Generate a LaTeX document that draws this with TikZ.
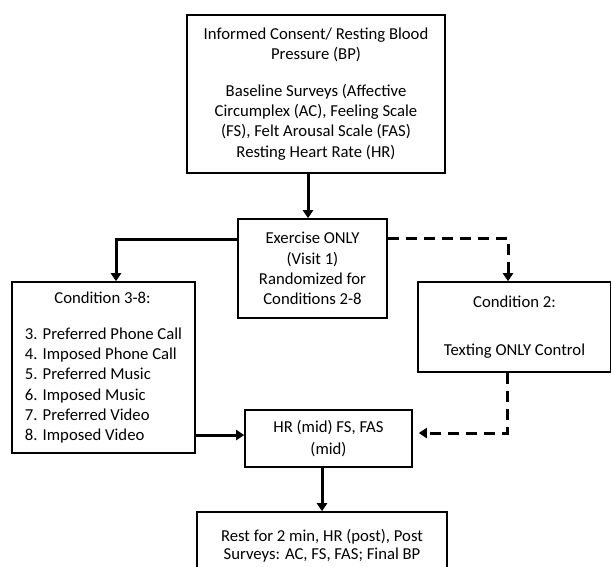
\documentclass[tikz,border=0pt]{standalone}
\usepackage{fontspec}
\setmainfont{Carlito}
\usetikzlibrary{arrows.meta}
\begin{document}
\begin{tikzpicture}[x=1pt,y=-1pt,
  box/.style={draw,line width=1.6pt,inner sep=0pt,align=center,font=\fontsize{16.7}{20.3}\selectfont},
  conn/.style={line width=3pt,-{Triangle[length=8pt,width=10pt]}},
  dconn/.style={conn,dash pattern=on 11pt off 7pt}]
\useasboundingbox (0,0) rectangle (611,566);
\node[box,minimum width=258pt,minimum height=158pt] (top) at (316,94)
  {Informed Consent/ Resting Blood\\Pressure (BP)\\[16pt]Baseline Surveys (Affective\\Circumplex (AC), Feeling Scale\\(FS), Felt Arousal Scale (FAS)\\Resting Heart Rate (HR)};
\node[box,minimum width=149pt,minimum height=99pt] (ex) at (312.5,268.5)
  {Exercise ONLY\\(Visit 1)\\Randomized for\\Conditions 2-8};
\node[box,minimum width=183pt,minimum height=171pt,align=left] (c38) at (103.5,367.5)
  {\makebox[155pt]{Condition 3-8:}\\[16pt]3. Preferred Phone Call\\4. Imposed Phone Call\\5. Preferred Music\\6. Imposed Music\\7. Preferred Video\\8. Imposed Video};
\node[box,minimum width=193pt,minimum height=90pt] (c2) at (514.5,327)
  {Condition 2:\\[27pt]Texting ONLY Control};
\node[box,minimum width=167pt,minimum height=57pt] (hr) at (328.5,438.5)
  {HR (mid) FS, FAS\\[2pt](mid)};
\node[box,minimum width=250pt,minimum height=68pt] (fin) at (322,546)
  {Rest for 2 min, HR (post), Post\\[-2pt]Surveys: AC, FS, FAS; Final BP};
\draw[conn] ([xshift=-8pt]top.south) -- ([xshift=-8pt]top.south |- ex.north);
\draw[conn] ([yshift=29.5pt]ex.west) -| ([xshift=12.5pt]c38.north);
\draw[dconn] ([yshift=30.5pt]ex.east) -| ([xshift=-6.5pt]c2.north);
\draw[dconn] ([xshift=-7.5pt]c2.south) |- ([xshift=6pt,yshift=5.5pt]hr.east);
\draw[conn] ([yshift=-67.5pt]c38.east) -- ([yshift=-67.5pt]c38.east -| hr.west);
\draw[conn] (hr.south -| fin.north) -- (fin.north);
\end{tikzpicture}
\end{document}
